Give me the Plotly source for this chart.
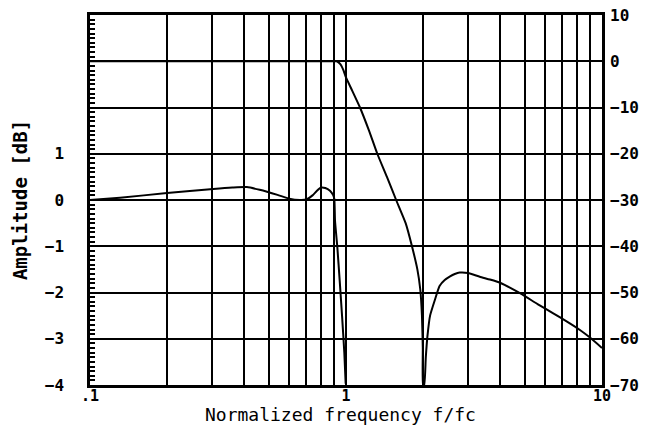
import plotly.graph_objects as go

# Passband detail (left axis, dB, zoomed)
pass_f = [0.1, 0.131, 0.2, 0.303, 0.36, 0.41, 0.46, 0.54, 0.6, 0.66, 0.70, 0.74, 0.77,
          0.80, 0.83, 0.866, 0.89, 0.9, 0.906, 0.925, 0.945, 0.965, 0.985, 0.997]
pass_db = [0.0, 0.05, 0.15, 0.24, 0.27, 0.28, 0.22, 0.11, 0.03, 0.0, 0.01, 0.1, 0.2,
           0.27, 0.26, 0.2, 0.11, 0.03, -0.45, -1.02, -1.75, -2.5, -3.3, -3.97]

# Full response (right axis, dB)
stop_f = [0.1, 0.5, 0.88, 0.92, 0.95, 0.975, 1.0, 1.05, 1.134, 1.23, 1.325, 1.445, 1.57, 1.71,
          1.81, 1.9, 1.95, 1.98, 1.995, 2.0, 2.02, 2.05, 2.08, 2.13, 2.23, 2.32, 2.43, 2.55, 2.66,
          2.78, 3.0, 3.33, 3.65, 4.0, 4.8, 5.6, 6.45, 7.3, 8.2, 9.0, 10.0]
stop_db = [0.0, 0.0, 0.0, 0.0, -0.6, -1.8, -3.5, -6.0, -10.0, -15.0, -20.0, -25.0, -30.0, -35.0,
           -40.0, -45.0, -49.3, -55.0, -62.0, -70.0, -70.0, -64.0, -59.5, -55.0, -51.4, -48.6, -47.3,
           -46.5, -46.0, -45.7, -45.8, -46.6, -47.2, -47.9, -50.2, -52.5, -54.5, -56.3, -58.1, -59.8, -62.0]

x_tickvals = [0.1, 1, 10]
x_ticktext = ['.1', '1', '10']
x_minor = [0.2, 0.3, 0.4, 0.5, 0.6, 0.7, 0.8, 0.9, 2, 3, 4, 5, 6, 7, 8, 9]
left_ticks = [-4, -3, -2, -1, 0, 1]
right_ticks = [-70, -60, -50, -40, -30, -20, -10, 0, 10]
x_title = 'Normalized frequency f/fc'
y_title = 'Amplitude [dB]'

font_mono = "DejaVu Sans Mono"

fig = go.Figure()
fig.add_trace(go.Scatter(x=pass_f, y=pass_db, mode='lines', yaxis='y',
                         line=dict(color='black', width=2, shape='spline', smoothing=0.5),
                         showlegend=False))
fig.add_trace(go.Scatter(x=stop_f, y=stop_db, mode='lines', yaxis='y2',
                         line=dict(color='black', width=2, shape='spline', smoothing=0.5),
                         showlegend=False))

fig.update_layout(
    width=653, height=427,
    margin=dict(l=90, r=51, t=15, b=42),
    paper_bgcolor='white', plot_bgcolor='white',
    font=dict(family=font_mono, color='black'),
    xaxis=dict(
        type='log', range=[-1, 1], automargin=False,
        tickmode='array', tickvals=x_tickvals, ticktext=x_ticktext,
        tickfont=dict(size=15, weight='bold'),
        showgrid=True, gridcolor='black', gridwidth=2,
        minor=dict(tickmode='array', tickvals=x_minor, showgrid=True,
                   gridcolor='black', gridwidth=1.6, ticks=''),
        showline=True, mirror=True, linecolor='black', linewidth=2.5,
        ticks='', ticklabelstandoff=-5, ticklabeloverflow='allow',
        zeroline=False,
    ),
    yaxis=dict(
        range=[-4, 4], automargin=False,
        tickmode='array', tickvals=left_ticks,
        tickfont=dict(size=16, weight='bold'),
        showgrid=False, zeroline=False,
        ticks='inside', ticklen=5, tickwidth=1.5, tickcolor='black',
        minor=dict(tickmode='linear', tick0=0, dtick=0.1, ticks='inside',
                   ticklen=5, tickwidth=1.5, tickcolor='black', showgrid=False),
        showline=True, mirror=True, linecolor='black', linewidth=2.5,
        ticklabelstandoff=20, ticklabeloverflow='allow',
        title=dict(text=y_title, font=dict(size=19, weight='bold'), standoff=13),
    ),
    yaxis2=dict(
        overlaying='y', side='right', range=[-70, 10], automargin=False,
        tickmode='array', tickvals=right_ticks,
        tickfont=dict(size=16, weight='bold'),
        showgrid=True, gridcolor='black', gridwidth=2, zeroline=False,
        ticks='', showline=False, ticklabelstandoff=7, ticklabeloverflow='allow',
    ),
    annotations=[dict(text=x_title, xref='paper', yref='paper', x=0.49, y=-0.08,
                      xanchor='center', yanchor='middle', showarrow=False,
                      font=dict(size=18, family=font_mono))],
)

fig.write_html("out.html", config={'displayModeBar': False},
               post_script="document.body.style.margin='0';")
